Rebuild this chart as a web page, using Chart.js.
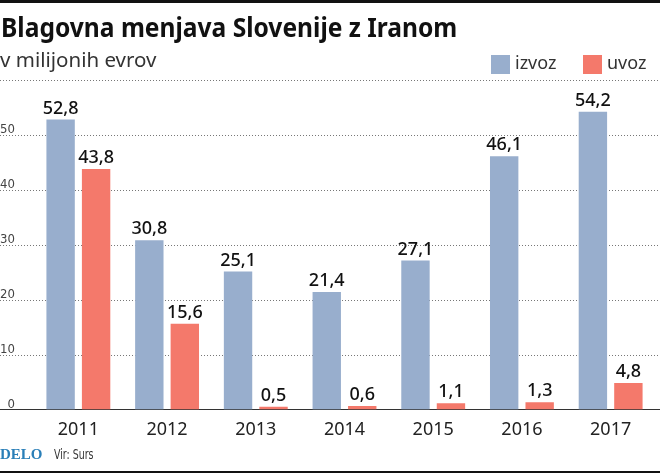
<!DOCTYPE html>
<html>
<head>
<meta charset="utf-8">
<script src="https://cdn.jsdelivr.net/npm/chart.js@4"></script>
<style>
    html, body { margin: 0; padding: 0; background: #fff; }
    #wrap { position: relative; width: 660px; height: 473px; overflow: hidden; font-family: "Noto Sans", sans-serif; color: #1a1a1a; }
    #wrap canvas { position: absolute; left: 0; top: 0; }
    .txt { position: absolute; white-space: nowrap; line-height: 1; }
    #topbar { position: absolute; left: 0; top: 0; width: 660px; height: 3px; background: #111; }
    #botbar { position: absolute; left: 0; top: 471px; width: 660px; height: 2px; background: #111; }
    #title { left: 1px; top: 14px; font-size: 26px; font-weight: 700; color: #111; transform: scaleX(0.945); transform-origin: left top; }
    #subtitle { left: 0; top: 49px; font-size: 20.5px; color: #333; }
    .box { position: absolute; top: 55px; width: 19px; height: 19px; }
    .lbl { top: 53px; font-size: 18px; color: #333; }
    #delo { left: 0; top: 447px; font-family: "Liberation Serif", serif; font-weight: 700; font-size: 15px; color: #2a7fb8; }
    #source { left: 54px; top: 447px; font-family: "DejaVu Sans Condensed", "Noto Sans", sans-serif; font-size: 14px; color: #333; transform: scaleX(0.75); transform-origin: left top; }
</style>
</head>
<body>
<div id="wrap">
    <canvas id="tradeChart" width="660" height="473"></canvas>
    <div id="topbar"></div>
    <div id="title" class="txt">Blagovna menjava Slovenije z Iranom</div>
    <div id="subtitle" class="txt">v milijonih evrov</div>
    <div class="box" style="left:491px; background:#98aecd"></div>
    <div class="txt lbl" style="left:515px">izvoz</div>
    <div class="box" style="left:583px; background:#f4796b"></div>
    <div class="txt lbl" style="left:607px">uvoz</div>
    <div id="delo" class="txt">DELO</div>
    <div id="source" class="txt">Vir: Surs</div>
    <div id="botbar"></div>
</div>
<script>
const years = ['2011', '2012', '2013', '2014', '2015', '2016', '2017'];
const izvoz = [52.8, 30.8, 25.1, 21.4, 27.1, 46.1, 54.2];
const uvoz = [43.8, 15.6, 0.5, 0.6, 1.1, 1.3, 4.8];
const yTicks = [0, 10, 20, 30, 40, 50, 60];

function formatValue(v) {
    return v.toFixed(1).replace('.', ',');
}

// dotted grid across the whole picture, under the bars
const fullGrid = {
    id: 'fullGrid',
    beforeDatasetsDraw(chart) {
        const ctx = chart.ctx;
        const y = chart.scales.y;
        ctx.save();
        ctx.strokeStyle = '#777';
        ctx.lineWidth = 1;
        ctx.setLineDash([1, 2]);
        yTicks.forEach(t => {
            if (t === 0) return;
            const py = Math.round(y.getPixelForValue(t)) + 0.5;
            ctx.beginPath();
            ctx.moveTo(0, py);
            ctx.lineTo(660, py);
            ctx.stroke();
        });
        ctx.setLineDash([]);
        const py0 = Math.round(y.getPixelForValue(0)) + 0.5;
        ctx.strokeStyle = '#333';
        ctx.beginPath();
        ctx.moveTo(0, py0);
        ctx.lineTo(660, py0);
        ctx.stroke();
        ctx.restore();
    }
};

// value above each bar
const valueLabels = {
    id: 'valueLabels',
    afterDatasetsDraw(chart) {
        const ctx = chart.ctx;
        ctx.save();
        ctx.font = '500 18px "Noto Sans"';
        ctx.fillStyle = '#111';
        ctx.textAlign = 'center';
        ctx.textBaseline = 'bottom';
        chart.data.datasets.forEach((ds, i) => {
            chart.getDatasetMeta(i).data.forEach((bar, j) => {
                ctx.fillText(formatValue(ds.data[j]), bar.x, bar.y - 2);
            });
        });
        ctx.restore();
    }
};

new Chart(document.getElementById('tradeChart').getContext('2d'), {
    type: 'bar',
    data: {
        labels: years,
        datasets: [
            { label: 'izvoz', data: izvoz, backgroundColor: '#98aecd' },
            { label: 'uvoz', data: uvoz, backgroundColor: '#f4796b' }
        ]
    },
    options: {
        responsive: false,
        animation: false,
        devicePixelRatio: 1,
        layout: { padding: { top: 80, right: 5, bottom: 22, left: 0 } },
        categoryPercentage: 0.8,
        barPercentage: 0.8,
        scales: {
            x: {
                grid: { display: false, drawTicks: false },
                border: { display: false },
                ticks: { color: '#222', padding: 10, font: { family: 'Noto Sans', size: 18 }, maxRotation: 0 }
            },
            y: {
                min: 0,
                max: 60,
                afterFit(scale) { scale.width = 34; },
                afterBuildTicks(scale) { scale.ticks = yTicks.map(v => ({ value: v })); },
                grid: { display: false, drawTicks: false },
                border: { display: false },
                ticks: {
                    color: '#444',
                    padding: 19,
                    labelOffset: -5,
                    font: { family: 'DejaVu Sans Condensed', size: 13 },
                    callback: v => (v === 60 ? '' : String(v))
                }
            }
        },
        plugins: { legend: { display: false }, title: { display: false }, tooltip: { enabled: false } }
    },
    plugins: [fullGrid, valueLabels]
});
</script>
</body>
</html>
